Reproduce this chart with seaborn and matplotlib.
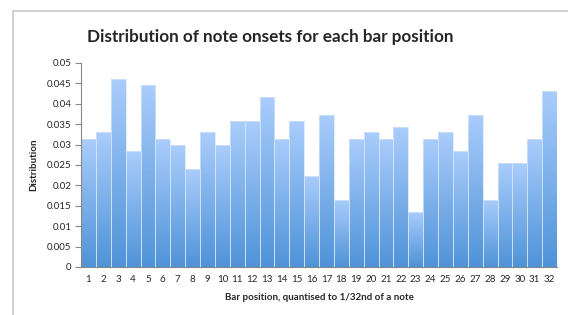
import numpy as np
import pandas as pd
import seaborn as sns
import matplotlib.pyplot as plt
from matplotlib.colors import LinearSegmentedColormap
from matplotlib.lines import Line2D

positions = [str(i) for i in range(1, 33)]
distribution = [0.0313, 0.0330, 0.0461, 0.0284, 0.0447, 0.0313, 0.0298, 0.0239,
                0.0330, 0.0298, 0.0357, 0.0357, 0.0417, 0.0313, 0.0357, 0.0224,
                0.0373, 0.0165, 0.0313, 0.0330, 0.0313, 0.0343, 0.0135, 0.0313,
                0.0330, 0.0284, 0.0373, 0.0165, 0.0254, 0.0254, 0.0313, 0.0432]
yticks = [0, 0.005, 0.01, 0.015, 0.02, 0.025, 0.03, 0.035, 0.04, 0.045, 0.05]
ytick_labels = ['0', '0.005', '0.01', '0.015', '0.02', '0.025', '0.03', '0.035', '0.04', '0.045', '0.05']

df = pd.DataFrame({'position': positions, 'distribution': distribution})

sns.set_style('white')
plt.rcParams['font.family'] = ['Lato', 'DejaVu Sans']

fig = plt.figure(figsize=(5.68, 3.15), dpi=100)
ax = fig.add_axes([81 / 568, 1 - 267 / 315, (557 - 81) / 568, (267 - 63) / 315])

sns.barplot(data=df, x='position', y='distribution', color='#7fb2ee', width=1.0,
            edgecolor='#d6e6f8', linewidth=0.5, ax=ax, saturation=1)

# vertical gradient inside each bar (light top, darker bottom)
grad = LinearSegmentedColormap.from_list('g', ['#4f93d8', '#aacdfc'])
g = np.linspace(0, 1, 256).reshape(-1, 1)
for p in ax.patches:
    x0, w, h = p.get_x(), p.get_width(), p.get_height()
    im = ax.imshow(g, cmap=grad, origin='lower', aspect='auto',
                   extent=[x0, x0 + w, 0, h], zorder=p.get_zorder() - 0.1)
    im.set_clip_path(p)
    p.set_facecolor('none')

ax.set_xlim(-0.5, 31.5)
ax.set_ylim(0, 0.05)
ax.set_yticks(yticks)
ax.set_yticklabels(ytick_labels)
ax.tick_params(axis='y', length=4, width=0.8, color='#888888', labelsize=7, pad=3, left=True)
ax.tick_params(axis='x', length=0, labelsize=7, pad=6)
for s in ['top', 'right']:
    ax.spines[s].set_visible(False)
ax.spines['left'].set_color('#888888')
ax.spines['bottom'].set_color('#888888')
ax.spines['left'].set_linewidth(0.8)
ax.spines['bottom'].set_linewidth(0.8)

ax.set_xlabel('Bar position, quantised to 1/32nd of a note', fontsize=7, fontweight='bold', labelpad=6)
ax.set_ylabel('Distribution', fontsize=7, fontweight='bold', labelpad=6)
fig.text(270 / 568, 1 - 37 / 315, 'Distribution of note onsets for each bar position',
         ha='center', va='center', fontsize=12.3, fontweight='bold')

# chart frame (top and left edges only, the rest is cropped)
fx, fy = 13 / 568, 1 - 10.5 / 315
fig.add_artist(Line2D([fx, 1.0], [fy, fy], transform=fig.transFigure, color='#c8c8c8', linewidth=1.2))
fig.add_artist(Line2D([fx, fx], [fy, 0.0], transform=fig.transFigure, color='#c8c8c8', linewidth=1.2))

fig.savefig('out.png', dpi=100)
